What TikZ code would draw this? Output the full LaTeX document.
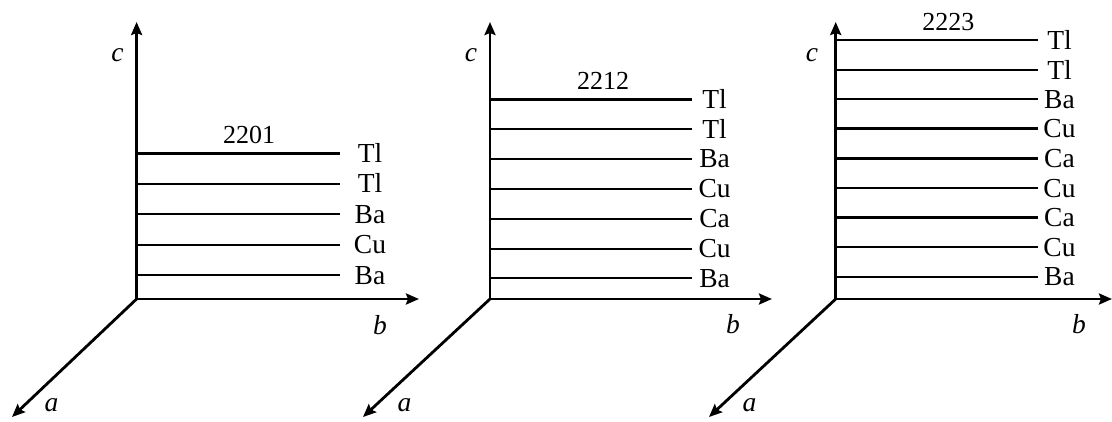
\documentclass[tikz,border=0pt]{standalone}
\usepackage{fontspec}
\setmainfont{Liberation Serif}
\usetikzlibrary{arrows.meta}
\tikzset{
  axis/.style={line width=2.8pt, -{Stealth[length=13pt,width=11pt,inset=2pt]}},
  layer/.style={line width=2.4pt},
  elem/.style={anchor=base, inner sep=0pt, font=\fontsize{27.5}{32}\selectfont},
  axlab/.style={anchor=base, inner sep=0pt, font=\fontsize{27.5}{32}\selectfont\itshape},
  title/.style={anchor=base, inner sep=0pt, font=\fontsize{26}{31}\selectfont},
}
\begin{document}
\begin{tikzpicture}[x=1pt,y=-1pt]
\useasboundingbox (0,0) rectangle (1112,421);
% ---- panel 1 ----
\coordinate (O1) at (136.6,299);
\coordinate (C1) at (136.6,22);
\coordinate (B1) at (419,299);
\coordinate (A1) at (12,417);
\foreach \y/\t [count=\i] in {153.3/Tl,183.7/Tl,214/Ba,244.7/Cu,275/Ba}{
  \coordinate (p1s\i) at (136.6,\y);
  \coordinate (p1e\i) at (340,\y);
  \draw[layer] (p1s\i) -- (p1e\i);
  \node[elem] (p1l\i) at (370,\y+9) {\t};
}
\draw[axis] (O1) -- (C1);
\draw[axis] (O1) -- (B1);
\draw[axis] (O1) -- (A1);
\node[axlab] (c1) at (117.5,61.7) {c};
\node[axlab] (b1) at (380,334) {b};
\node[axlab] (a1) at (51.5,411.7) {a};
\node[title] (t1) at (249,143.3) {2201};
% ---- panel 2 ----
\coordinate (O2) at (490,299);
\coordinate (C2) at (490,22);
\coordinate (B2) at (772,299);
\coordinate (A2) at (363,417);
\foreach \y/\t [count=\i] in {99.3/Tl,129/Tl,158.7/Ba,188.7/Cu,218.7/Ca,248.7/Cu,278/Ba}{
  \coordinate (p2s\i) at (490,\y);
  \coordinate (p2e\i) at (691.7,\y);
  \draw[layer] (p2s\i) -- (p2e\i);
  \node[elem] (p2l\i) at (714.6,\y+9) {\t};
}
\draw[axis] (O2) -- (C2);
\draw[axis] (O2) -- (B2);
\draw[axis] (O2) -- (A2);
\node[axlab] (c2) at (471,61.7) {c};
\node[axlab] (b2) at (733,333.5) {b};
\node[axlab] (a2) at (404.5,411.7) {a};
\node[title] (t2) at (603,89.3) {2212};
% ---- panel 3 ----
\coordinate (O3) at (835.7,299);
\coordinate (C3) at (835.7,22);
\coordinate (B3) at (1112,299);
\coordinate (A3) at (709,417);
\foreach \y/\t [count=\i] in {40/Tl,70/Tl,99/Ba,128.3/Cu,158.3/Ca,188/Cu,217.3/Ca,247/Cu,276.7/Ba}{
  \coordinate (p3s\i) at (835.7,\y);
  \coordinate (p3e\i) at (1037.7,\y);
  \draw[layer] (p3s\i) -- (p3e\i);
  \node[elem] (p3l\i) at (1059.5,\y+9) {\t};
}
\draw[axis] (O3) -- (C3);
\draw[axis] (O3) -- (B3);
\draw[axis] (O3) -- (A3);
\node[axlab] (c3) at (812,61.7) {c};
\node[axlab] (b3) at (1079,333.5) {b};
\node[axlab] (a3) at (749.5,411.5) {a};
\node[title] (t3) at (948.3,30.7) {2223};
\end{tikzpicture}
\end{document}
